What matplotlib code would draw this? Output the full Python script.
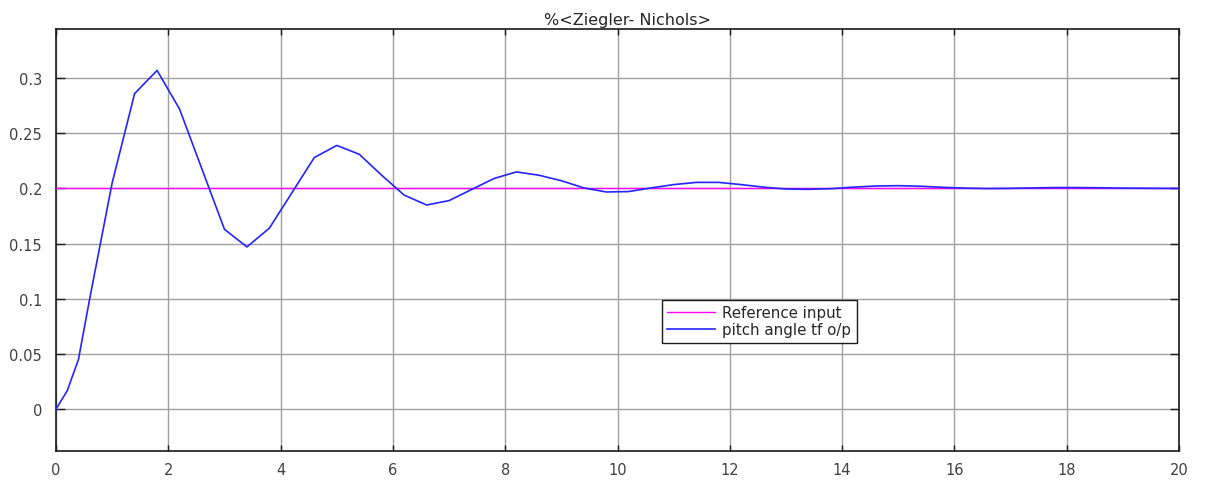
import matplotlib
matplotlib.use("Agg")
import matplotlib.pyplot as plt

# Step response of pitch angle loop with Ziegler-Nichols tuned controller
time_s = [0.0, 0.2, 0.4, 0.6, 1.0, 1.4, 1.8, 2.2, 2.6, 3.0, 3.4, 3.8, 4.2, 4.6,
          5.0, 5.4, 5.8, 6.2, 6.6, 7.0, 7.4, 7.8, 8.2, 8.6, 9.0, 9.4, 9.8,
          10.2, 10.6, 11.0, 11.4, 11.8, 12.2, 12.6, 13.0, 13.4, 13.8, 14.2,
          14.6, 15.0, 15.4, 15.8, 16.2, 16.6, 17.0, 17.4, 17.8, 18.2, 18.6,
          19.0, 20.0]
pitch_out = [0.0, 0.0166, 0.045, 0.100, 0.205, 0.286, 0.307, 0.272, 0.2175,
             0.163, 0.147, 0.164, 0.196, 0.228, 0.239, 0.231, 0.212, 0.194,
             0.185, 0.189, 0.199, 0.209, 0.215, 0.212, 0.207, 0.2005, 0.1968,
             0.1972, 0.2005, 0.2035, 0.2055, 0.2055, 0.2035, 0.2012, 0.1995,
             0.1992, 0.1998, 0.2012, 0.2022, 0.2025, 0.2020, 0.2010, 0.2003,
             0.1999, 0.2001, 0.2005, 0.2008, 0.2008, 0.2006, 0.2003, 0.2000]

ref_time = [0.0, 20.0]
ref_value = [0.2, 0.2]

x_ticks = [0, 2, 4, 6, 8, 10, 12, 14, 16, 18, 20]
y_ticks = [0, 0.05, 0.1, 0.15, 0.2, 0.25, 0.3]
y_tick_labels = ["0", "0.05", "0.1", "0.15", "0.2", "0.25", "0.3"]

plt.rcParams["font.family"] = ["DejaVu Sans"]

W, H = 1205, 481
fig = plt.figure(figsize=(W / 100, H / 100), dpi=100)
fig.patch.set_facecolor("white")

left, right, top, bottom = 56, 1179, 29.5, 452
ax = fig.add_axes([left / W, (H - bottom) / H, (right - left) / W, (bottom - top) / H])

ax.plot(ref_time, ref_value, color="#ff00ff", lw=1.0, label="Reference input", zorder=3)
ax.plot(time_s, pitch_out, color="#2424ff", lw=1.2, label="pitch angle tf o/p", zorder=4)

ax.set_xlim(0, 20)
ax.set_ylim(-0.038, 0.345)
ax.set_xticks(x_ticks)
ax.set_xticklabels([str(v) for v in x_ticks])
ax.set_yticks(y_ticks)
ax.set_yticklabels(y_tick_labels)

ax.grid(True, color="#a0a0a0", lw=1.0, zorder=1)
ax.set_axisbelow(True)

for sp in ax.spines.values():
    sp.set_color("#1a1a1a")
    sp.set_linewidth(1.2)

ax.tick_params(axis="x", direction="in", top=True, length=4, width=1.0,
               colors="#1a1a1a", labelcolor="#404040", labelsize=10.5, pad=8)
ax.tick_params(axis="y", direction="in", right=True, length=6.5, width=1.0,
               colors="#1a1a1a", labelcolor="#404040", labelsize=10.5, pad=10)

ax.set_title("%<Ziegler- Nichols>", fontsize=11.5, color="#262626", pad=3, x=0.509)

ax_w = right - left
ax_h = bottom - top
leg = ax.legend(loc="upper left",
                bbox_to_anchor=((661.7 - left) / ax_w, (bottom - 300.7) / ax_h),
                frameon=True, fancybox=False, shadow=False, fontsize=10.8,
                handlelength=3.2, handletextpad=0.45, borderpad=0.38,
                labelspacing=0.1, borderaxespad=0.0)
leg.get_frame().set_edgecolor("#1a1a1a")
leg.get_frame().set_linewidth(1.0)
leg.get_frame().set_alpha(1.0)
for txt in leg.get_texts():
    txt.set_color("#262626")

fig.savefig("out.png", dpi=100, facecolor="white")
